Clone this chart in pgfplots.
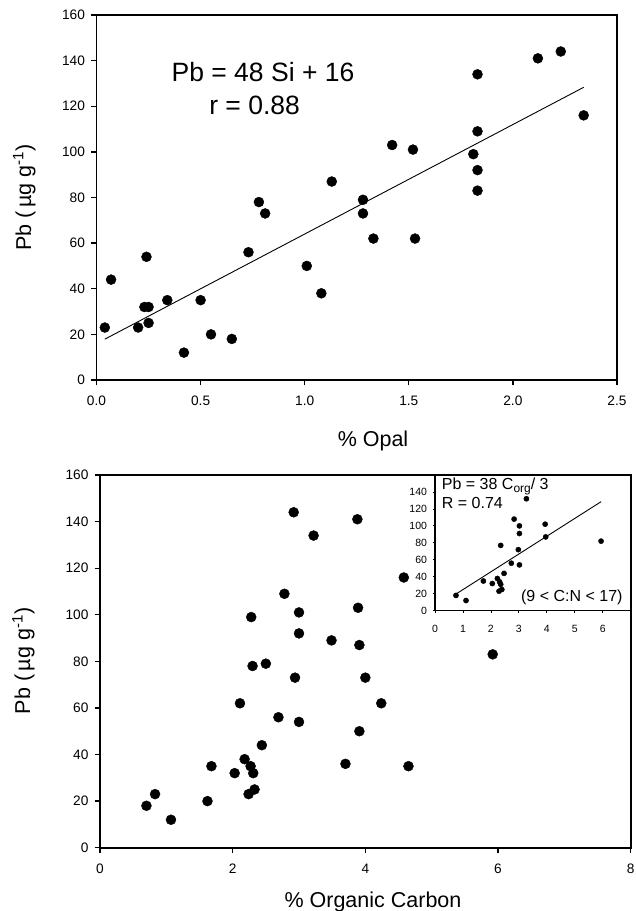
\documentclass[border=0pt]{standalone}
\usepackage{pgfplots}
\pgfplotsset{compat=1.18}
\usepackage{fontspec}
\setmainfont{Liberation Sans}
\begin{document}
\begin{tikzpicture}
\useasboundingbox (0pt,0pt) rectangle (636pt,911pt);
\pgfplotsset{
  myaxis/.style={
    scale only axis, anchor=south west,
    ymin=0, ymax=160, ytick={0,20,...,160},
    tick align=outside, tick pos=left,
    major tick length=5.5pt,
    every tick/.style={black, line width=1.3pt},
    axis line style={line width=1.9pt, black},
    ticklabel style={font=\fontsize{13.7}{16}\selectfont},
    xticklabel style={yshift=-7pt},
    yticklabel style={xshift=-2.5pt},
    /pgf/number format/assume math mode=true,
    clip=false,
  },
  dots/.style={only marks, mark=*, mark size=5pt, black},
}
% ---------- top panel ----------
\begin{axis}[myaxis,
  at={(96.5pt,531pt)}, width=520.5pt, height=365pt,
  xmin=0, xmax=2.5, xtick={0,0.5,...,2.5},
  xticklabel={\pgfmathprintnumber[fixed,fixed zerofill,precision=1]{\tick}},
]
\addplot[dots] table {
x y
0.04 23
0.07 44
0.20 23
0.23 32
0.25 32
0.24 54
0.25 25
0.34 35
0.42 12
0.50 35
0.55 20
0.65 18
0.73 56
0.78 78
0.81 73
1.01 50
1.08 38
1.13 87
1.28 79
1.28 73
1.33 62
1.42 103
1.52 101
1.53 62
1.81 99
1.83 134
1.83 109
1.83 92
1.83 83
2.12 141
2.23 144
2.34 116
};
\addplot[black, line width=0.9pt] coordinates {(0.04,17.9) (2.34,128.3)};
\end{axis}
\node[font=\fontsize{26.5}{28}\selectfont, anchor=base] at (263pt,829.3pt) {Pb = 48 Si + 16};
\node[font=\fontsize{26.5}{28}\selectfont, anchor=base] at (254.6pt,796pt) {r = 0.88};
\node[font=\fontsize{21.5}{24}\selectfont, anchor=base] at (373pt,464.3pt) {\% Opal};
\node[font=\fontsize{21.5}{24}\selectfont, rotate=90] at (24.3pt,713.5pt) {Pb (\,µg g\textsuperscript{-1})};
% ---------- bottom panel ----------
\begin{axis}[myaxis,
  at={(100pt,63.3pt)}, width=530.7pt, height=372.7pt,
  xmin=0, xmax=8, xtick={0,2,...,8},
]
\addplot[dots] table {
x y
2.92 144
3.88 141
3.22 134
4.58 116
2.78 109
2.28 99
3.00 101
3.89 103
3.00 92
3.49 89
3.91 87
5.92 83
2.30 78
2.50 79
2.94 73
4.00 73
2.11 62
4.24 62
2.69 56
3.00 54
3.91 50
2.44 44
2.18 38
3.70 36
4.65 35
1.68 35
2.03 32
2.27 35
2.31 32
2.24 23
2.33 25
1.62 20
0.83 23
0.70 18
1.07 12
};
\end{axis}
\node[font=\fontsize{21.5}{24}\selectfont, anchor=base] at (373pt,3.7pt) {\% Organic Carbon};
\node[font=\fontsize{21.5}{24}\selectfont, rotate=90] at (23.5pt,250pt) {Pb (\,µg g\textsuperscript{-1})};
% ---------- inset ----------
\begin{axis}[myaxis,
  at={(435pt,300.3pt)}, width=195.7pt, height=135.7pt,
  xmin=0, xmax=7, xtick={0,1,...,6},
  ymin=0, ymax=160, ytick={0,20,...,140},
  major tick length=2pt,
  every tick/.style={black, line width=0.8pt},
  axis line style={line width=1.6pt, black},
  ticklabel style={font=\fontsize{10.5}{12}\selectfont},
  xticklabel style={yshift=-2pt},
  yticklabel style={xshift=0pt},
  axis background/.style={fill=white},
]
\addplot[dots, mark size=2.6pt] table {
x y
0.75 18
1.11 12
1.73 35
2.05 32
2.23 38
2.31 34
2.35 31
2.29 23
2.39 25
2.47 44
2.35 77
2.73 56
3.02 54
2.98 72
2.83 108
3.02 100
3.02 91
3.27 132
3.94 102
3.96 87
5.94 82
};
\addplot[black, line width=0.9pt] coordinates {(0.72,19) (5.94,128.5)};
\end{axis}
\node[font=\fontsize{16}{18}\selectfont, anchor=base west, inner sep=0pt] at (441.7pt,421pt) {Pb = 38 C\raisebox{-0.3ex}{\fontsize{12}{14}\selectfont org}/ 3};
\node[font=\fontsize{16}{18}\selectfont, anchor=base west, inner sep=0pt] at (441.7pt,402.7pt) {R = 0.74};
\node[font=\fontsize{16}{18}\selectfont, anchor=base east, inner sep=0pt] at (622.7pt,309.3pt) {(9 < C:N < 17)};
\end{tikzpicture}
\end{document}
